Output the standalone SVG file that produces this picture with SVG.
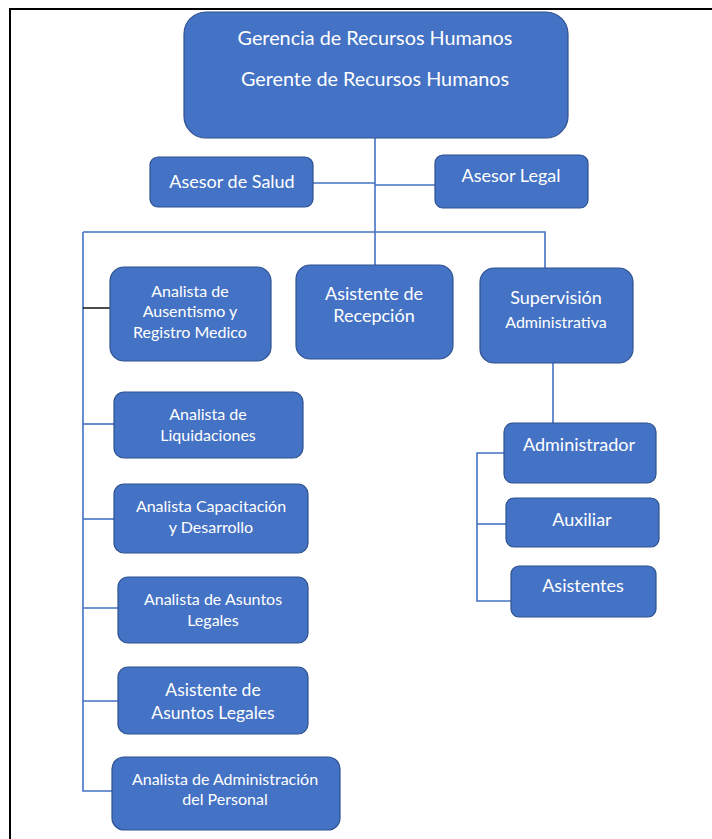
<svg xmlns="http://www.w3.org/2000/svg" width="712" height="839" viewBox="0 0 712 839">
  <style>
    .box { fill: #4472C4; stroke: #2F528F; stroke-width: 1.2; }
    .lbl { fill: #ffffff; font-family: Lato, "Open Sans", "Liberation Sans", sans-serif; text-anchor: middle; }
    .s20 { font-size: 19.8px; }
    .s18 { font-size: 18px; }
    .s17 { font-size: 17.5px; }
    .s16 { font-size: 16px; }
    .wire { fill: none; stroke: #4472C4; stroke-width: 1.6; }
    .wire-dark { fill: none; stroke: #000000; stroke-width: 1.4; }
  </style>

  <rect x="0" y="0" width="712" height="839" fill="#ffffff"/>
  <!-- page frame -->
  <path d="M10,850 V9 H720" fill="none" stroke="#000000" stroke-width="2"/>

  <g id="connectors">
    <path class="wire" d="M375,138 V265"/>
    <path class="wire" d="M313,183 H375"/>
    <path class="wire" d="M375,185 H435"/>
    <path class="wire" d="M83,232 H545 V268"/>
    <path class="wire" d="M83,232 V791 H112"/>
    <path class="wire-dark" d="M83,308 H110"/>
    <path class="wire" d="M83,424 H114"/>
    <path class="wire" d="M83,519 H114"/>
    <path class="wire" d="M83,608 H118"/>
    <path class="wire" d="M83,701 H118"/>
    <path class="wire" d="M553,363 V423"/>
    <path class="wire" d="M504,453 H477 V601 H511"/>
    <path class="wire" d="M477,524 H506"/>
  </g>

  <g id="gerencia">
    <rect class="box" x="184" y="12" width="384" height="126" rx="22"/>
    <text class="lbl s20" x="375" y="45">Gerencia de Recursos Humanos</text>
    <text class="lbl s20" x="375" y="86">Gerente de Recursos Humanos</text>
  </g>

  <g id="asesor-salud">
    <rect class="box" x="150" y="157" width="163" height="50" rx="8"/>
    <text class="lbl s18" x="232" y="188">Asesor de Salud</text>
  </g>

  <g id="asesor-legal">
    <rect class="box" x="435" y="155" width="153" height="53" rx="8"/>
    <text class="lbl s18" x="511" y="182">Asesor Legal</text>
  </g>

  <g id="analista-ausentismo">
    <rect class="box" x="110" y="267" width="161" height="94" rx="14"/>
    <text class="lbl s16" x="190" y="297">Analista de</text>
    <text class="lbl s16" x="190" y="317">Ausentismo y</text>
    <text class="lbl s16" x="190" y="338">Registro Medico</text>
  </g>

  <g id="asistente-recepcion">
    <rect class="box" x="296" y="265" width="157" height="94" rx="14"/>
    <text class="lbl s18" x="374" y="300">Asistente de</text>
    <text class="lbl s18" x="374" y="322">Recepción</text>
  </g>

  <g id="supervision">
    <rect class="box" x="480" y="268" width="153" height="95" rx="14"/>
    <text class="lbl s18" x="556" y="304">Supervisión</text>
    <text class="lbl s16" x="556" y="328">Administrativa</text>
  </g>

  <g id="analista-liquidaciones">
    <rect class="box" x="114" y="392" width="189" height="66" rx="10"/>
    <text class="lbl s16" x="208" y="420">Analista de</text>
    <text class="lbl s16" x="208" y="441">Liquidaciones</text>
  </g>

  <g id="analista-capacitacion">
    <rect class="box" x="114" y="484" width="194" height="69" rx="10"/>
    <text class="lbl s16" x="211" y="512">Analista Capacitación</text>
    <text class="lbl s16" x="211" y="533">y Desarrollo</text>
  </g>

  <g id="analista-asuntos-legales">
    <rect class="box" x="118" y="577" width="190" height="66" rx="10"/>
    <text class="lbl s16" x="213" y="605">Analista de Asuntos</text>
    <text class="lbl s16" x="213" y="626">Legales</text>
  </g>

  <g id="asistente-asuntos-legales">
    <rect class="box" x="118" y="667" width="190" height="67" rx="10"/>
    <text class="lbl s17" x="213" y="696">Asistente de</text>
    <text class="lbl s17" x="213" y="719">Asuntos Legales</text>
  </g>

  <g id="analista-administracion">
    <rect class="box" x="112" y="757" width="228" height="73" rx="12"/>
    <text class="lbl s16" x="225" y="785">Analista de Administración</text>
    <text class="lbl s16" x="225" y="805">del Personal</text>
  </g>

  <g id="administrador">
    <rect class="box" x="504" y="423" width="152" height="60" rx="9"/>
    <text class="lbl s18" x="579" y="451">Administrador</text>
  </g>

  <g id="auxiliar">
    <rect class="box" x="506" y="498" width="153" height="49" rx="8"/>
    <text class="lbl s18" x="582" y="526">Auxiliar</text>
  </g>

  <g id="asistentes">
    <rect class="box" x="511" y="566" width="145" height="51" rx="8"/>
    <text class="lbl s18" x="583" y="592">Asistentes</text>
  </g>
</svg>
